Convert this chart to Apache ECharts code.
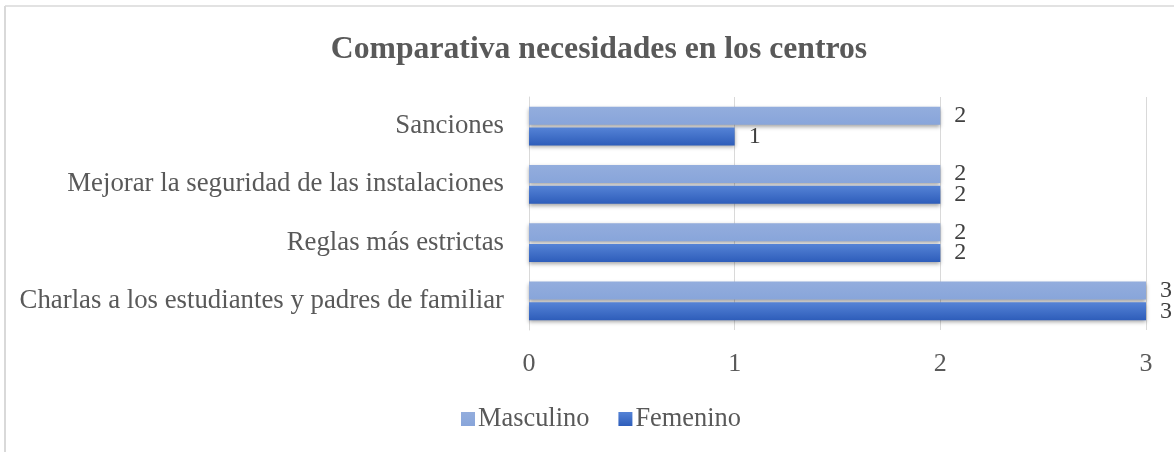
<!DOCTYPE html>
<html>
<head>
<meta charset="utf-8">
<script src="https://cdn.jsdelivr.net/npm/echarts@6/dist/echarts.min.js"></script>
<style>
  html, body { margin: 0; padding: 0; background: #fff; }
  #chart { width: 1174px; height: 452px; }
</style>
</head>
<body>
<div id="chart"></div>
<script>
// datos del grafico
var categorias = ["Charlas a los estudiantes y padres de familiar", "Reglas más estrictas", "Mejorar la seguridad de las instalaciones", "Sanciones"];
var masculino = [3, 2, 2, 2];
var femenino = [3, 2, 2, 1];
var ticks = [0, 1, 2, 3];

var fuente = "'Liberation Serif', 'Times New Roman', serif";
var gris = "#595959";

var chart = echarts.init(document.getElementById("chart"));

var option = {
  backgroundColor: "#fff",
  title: {
    text: "Comparativa necesidades en los centros",
    left: 594,
    textAlign: "center",
    top: 29,
    textStyle: { fontFamily: fuente, fontSize: 31.7, fontWeight: "bold", color: gris }
  },
  legend: {
    data: ["Masculino", "Femenino"],
    left: 456,
    top: 401,
    itemWidth: 14,
    itemHeight: 14,
    itemGap: 29,
    icon: "rect",
    textStyle: { fontFamily: fuente, fontSize: 26.4, color: gris, padding: [0, 0, 0, -2] }
  },
  grid: { left: 529, right: 28, top: 97, bottom: 122, containLabel: false },
  xAxis: {
    type: "value",
    min: 0,
    max: 3,
    interval: 1,
    axisLine: { show: false },
    axisTick: { show: false },
    splitLine: { lineStyle: { color: "#d9d9d9", width: 1 } },
    axisLabel: {
      margin: 21,
      fontFamily: fuente, fontSize: 26, color: gris,
      formatter: function (v) { return ticks.indexOf(v) >= 0 ? String(v) : ""; }
    }
  },
  yAxis: {
    type: "category",
    data: categorias,
    axisLine: { show: true, lineStyle: { color: "#d9d9d9" } },
    axisTick: { show: false },
    axisLabel: { margin: 25, fontFamily: fuente, fontSize: 26.8, color: gris }
  },
  series: [
    {
      name: "Masculino",
      type: "bar",
      data: masculino,
      barWidth: 18,
      barGap: "15%",
      itemStyle: {
        color: new echarts.graphic.LinearGradient(0, 0, 0, 1, [
          { offset: 0, color: "#93addd" },
          { offset: 1, color: "#88a5da" }
        ]),
        shadowColor: "rgba(0,0,0,0.35)",
        shadowBlur: 4,
        shadowOffsetY: 2
      },
      label: {
        show: true, position: "right", distance: 14,
        fontFamily: fuente, fontSize: 24, color: "#404040"
      }
    },
    {
      name: "Femenino",
      type: "bar",
      data: femenino,
      barWidth: 18,
      itemStyle: {
        color: new echarts.graphic.LinearGradient(0, 0, 0, 1, [
          { offset: 0, color: "#5583d6" },
          { offset: 1, color: "#2e5dba" }
        ]),
        shadowColor: "rgba(0,0,0,0.35)",
        shadowBlur: 4,
        shadowOffsetY: 2
      },
      label: {
        show: true, position: "right", distance: 14,
        fontFamily: fuente, fontSize: 24, color: "#404040"
      }
    }
  ],
  graphic: [
    { type: "line", shape: { x1: 5, y1: 6, x2: 1174, y2: 6 }, style: { stroke: "#d9d9d9", lineWidth: 1.5 } },
    { type: "line", shape: { x1: 5, y1: 6, x2: 5, y2: 452 }, style: { stroke: "#d9d9d9", lineWidth: 2 } }
  ]
};

chart.setOption(option);
</script>
</body>
</html>
